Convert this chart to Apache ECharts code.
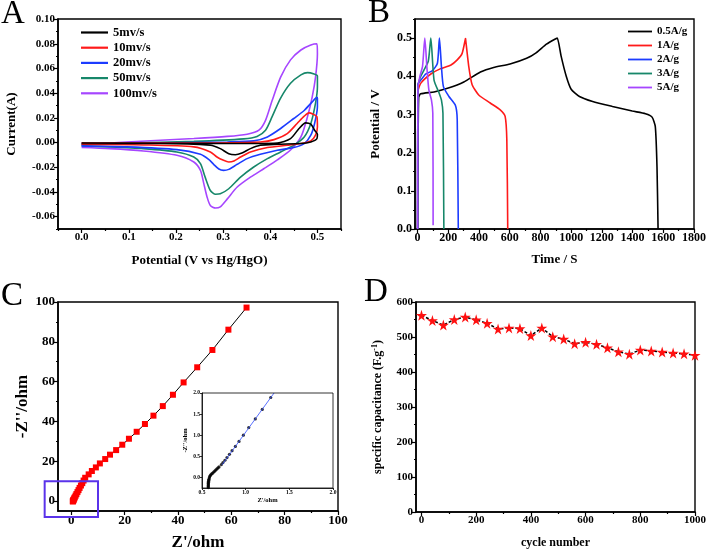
<!DOCTYPE html>
<html><head><meta charset="utf-8">
<script src="https://cdn.jsdelivr.net/npm/echarts@6/dist/echarts.min.js"></script>
<style>html,body{margin:0;padding:0;background:#fff}#c{width:709px;height:552px}</style>
</head><body><div id="c"></div>
<script>
// ---------- Panel A: CV curves [potential V, current A] ----------
const cvNames = ['5mv/s','10mv/s','20mv/s','50mv/s','100mv/s'];
const cv5 = [[0,-0.0003],[0.309,-0.0008],[0.415,-0.0003],[0.443,0.0032],[0.461,0.0114],[0.475,0.016],[0.486,0.0149],[0.494,0.010],[0.5,0.0068],[0.499,0.0032],[0.486,0.0005],[0.465,-0.0008],[0.415,-0.0014],[0.379,-0.0022],[0.358,-0.0049],[0.34,-0.0084],[0.326,-0.0098],[0.312,-0.009],[0.294,-0.0049],[0.273,-0.0022],[0.167,-0.0008],[0,-0.0008]];
const cv10 = [[0,-0.0003],[0.238,-0.0003],[0.379,0.0005],[0.408,0.0024],[0.436,0.0073],[0.457,0.0155],[0.472,0.0214],[0.482,0.0241],[0.491,0.023],[0.499,0.0209],[0.5,0.0127],[0.496,0.006],[0.486,0.0014],[0.465,-0.0008],[0.436,-0.0022],[0.394,-0.004],[0.358,-0.0076],[0.337,-0.0117],[0.323,-0.0149],[0.312,-0.0157],[0.301,-0.0144],[0.287,-0.0117],[0.273,-0.0076],[0.238,-0.0035],[0.131,-0.0019],[0,-0.0014]];
const cv20 = [[0,-0.0008],[0.167,-0.0003],[0.309,0.0005],[0.365,0.0014],[0.394,0.0046],[0.422,0.0114],[0.45,0.0195],[0.472,0.026],[0.489,0.033],[0.499,0.0366],[0.5,0.0358],[0.5,0.029],[0.494,0.0155],[0.486,0.006],[0.472,-0.0008],[0.45,-0.004],[0.415,-0.0062],[0.379,-0.0095],[0.351,-0.013],[0.33,-0.0176],[0.312,-0.0217],[0.301,-0.0225],[0.291,-0.0214],[0.28,-0.0176],[0.27,-0.0138],[0.252,-0.0095],[0.202,-0.0057],[0.096,-0.0035],[0,-0.0027]];
const cv50 = [[0,-0.0014],[0.096,-0.0003],[0.238,0.001],[0.344,0.003],[0.372,0.005],[0.39,0.010],[0.404,0.021],[0.422,0.036],[0.443,0.048],[0.465,0.0548],[0.479,0.0567],[0.493,0.0556],[0.5,0.054],[0.5,0.045],[0.496,0.032],[0.486,0.0155],[0.472,0.0046],[0.45,-0.002],[0.422,-0.0076],[0.394,-0.013],[0.365,-0.0198],[0.337,-0.028],[0.312,-0.0374],[0.294,-0.0415],[0.284,-0.0418],[0.273,-0.0388],[0.262,-0.028],[0.252,-0.017],[0.238,-0.0117],[0.202,-0.0076],[0.131,-0.0049],[0.06,-0.0035],[0,-0.0027]];
const cv100 = [[0,-0.002],[0.096,0.0005],[0.238,0.0033],[0.309,0.005],[0.351,0.0068],[0.376,0.010],[0.39,0.018],[0.404,0.034],[0.422,0.053],[0.443,0.067],[0.465,0.075],[0.486,0.079],[0.499,0.080],[0.5,0.072],[0.496,0.053],[0.489,0.037],[0.479,0.021],[0.465,0.0046],[0.443,-0.006],[0.415,-0.014],[0.387,-0.021],[0.358,-0.028],[0.33,-0.036],[0.309,-0.0456],[0.294,-0.052],[0.284,-0.053],[0.273,-0.051],[0.266,-0.044],[0.259,-0.033],[0.252,-0.0225],[0.238,-0.0157],[0.202,-0.0103],[0.131,-0.0068],[0.06,-0.0049],[0,-0.004]];
const xTicksA = [0,0.1,0.2,0.3,0.4,0.5];
const yTicksA = [-0.06,-0.04,-0.02,0,0.02,0.04,0.06,0.08,0.10];

// ---------- Panel B: GCD curves [time s, potential V] ----------
const gcdNames = ['0.5A/g','1A/g','2A/g','3A/g','5A/g'];
const g05 = [[0,0],[3,0.2],[7,0.345],[20,0.354],[107,0.359],[200,0.369],[301,0.385],[409,0.411],[495,0.423],[602,0.432],[710,0.447],[774,0.462],[839,0.484],[903,0.499],[910,0.5],[935,0.452],[968,0.4],[1000,0.366],[1054,0.347],[1140,0.334],[1269,0.321],[1398,0.309],[1484,0.302],[1527,0.293],[1548,0.268],[1559,0.163],[1566,0]];
const g1 = [[0,0],[2,0.36],[21,0.382],[86,0.406],[150,0.42],[215,0.429],[258,0.443],[290,0.46],[312,0.499],[315,0.5],[333,0.426],[355,0.378],[398,0.351],[473,0.33],[538,0.312],[570,0.295],[581,0.233],[587,0]];
const g2 = [[0,0],[2,0.38],[21,0.39],[54,0.406],[97,0.415],[129,0.434],[142,0.5],[155,0.426],[168,0.373],[204,0.347],[247,0.323],[258,0.286],[265,0]];
const g3 = [[0,0],[2,0.37],[15,0.395],[40,0.415],[70,0.44],[86,0.5],[107,0.39],[140,0.356],[155,0.338],[165,0.303],[171,0]];
const g5 = [[0,0],[2,0.37],[15,0.4],[32,0.426],[47,0.5],[60,0.426],[73,0.365],[90,0.338],[99,0.303],[101,0.01]];
const xTicksB = [0,200,400,600,800,1000,1200,1400,1600,1800];
const yTicksB = [0,0.1,0.2,0.3,0.4,0.5];

// ---------- Panel C: Nyquist [Z' ohm, -Z'' ohm] ----------
const nyqX = [0.57,0.58,0.63,0.70,0.79,0.92,1.10,1.29,1.6,1.9,2.3,2.7,3.1,3.6,4.1,4.6,5.2,6.5,7.7,9.2,10.7,12.7,14.5,16.8,19.1,21.6,24.5,27.6,30.8,34.3,38.1,42.1,47.2,52.9,58.9,65.7];
const nyqY = [-0.24,0.0,0.11,0.25,0.47,0.85,1.39,1.89,2.7,3.5,4.5,5.5,6.6,7.8,9.0,10.3,11.7,13.4,15.1,16.9,18.9,21.1,23.3,25.6,28.3,31.3,34.8,38.7,42.9,47.7,53.4,59.6,67.2,75.9,86.1,97.2];
const zoomBox = [-10, 10, 10, -8];
const xTicksC = [0,20,40,60,80,100];
const yTicksC = [0,20,40,60,80,100];
// inset (high-frequency region)
const insX = [0.572,0.572,0.572,0.573,0.573,0.574,0.575,0.577,0.58,0.584,0.588,0.595,0.603,0.614,0.626,0.637,0.649,0.66,0.672,0.684,0.695,0.722,0.74,0.763,0.786,0.814,0.844,0.882,0.924,0.974,1.035,1.11,1.19,1.287];
const insY = [-0.24,-0.215,-0.19,-0.165,-0.14,-0.115,-0.09,-0.065,-0.04,-0.01,0.02,0.045,0.07,0.09,0.11,0.135,0.157,0.18,0.204,0.227,0.25,0.305,0.352,0.407,0.47,0.548,0.634,0.735,0.853,1.0,1.18,1.385,1.61,1.894];
const fitLine = [[0.73,0.3],[1.325,2.0]];
const xTicksI = [0.5,1.0,1.5,2.0];
const yTicksI = [0.0,0.5,1.0,1.5,2.0];

// ---------- Panel D: cycling ----------
const cycles = [0,40,80,120,160,200,240,280,320,360,400,440,480,520,560,600,640,680,720,760,800,840,880,920,960,1000];
const capac = [562,547,534,550,557,549,539,523,526,524,504,526,501,494,481,485,479,469,458,451,463,460,457,454,452,448];
const xTicksD = [0,200,400,600,800,1000];
const yTicksD = [0,100,200,300,400,500,600];

// ---------- helpers ----------
const FF = 'Liberation Serif';
function minorsOf(t, min, max){
  const step = t[1]-t[0], r = [];
  for (let i = -1; i < t.length; i++){
    const v = +(t[0] + step*(i+0.5)).toFixed(6);
    if (v >= min-1e-9 && v <= max+1e-9) r.push(v);
  }
  return r;
}
function axes(dim, grid, min, max, ticks, fmt, fs, name, gap, nfs, extra){
  const pos = dim==='x' ? 'bottom' : 'left';
  const main = {
    type:'value', gridIndex:grid, min:min, max:max, position:pos,
    axisLine:{show:true, onZero:false, lineStyle:{color:'#000', width:1.6}},
    axisTick:{show:true, length:4, customValues:ticks, lineStyle:{color:'#000', width:1.2}},
    axisLabel:{customValues:ticks, formatter:fmt, fontFamily:FF, fontWeight:'bold', fontSize:fs, color:'#000', margin:3,
      showMinLabel:true, showMaxLabel:true, hideOverlap:false},
    splitLine:{show:false},
    name:name, nameLocation:'middle', nameGap:gap,
    nameTextStyle:{fontFamily:FF, fontWeight:'bold', fontSize:nfs, color:'#000'}
  };
  if (extra) Object.assign(main, extra);
  const minor = {
    type:'value', gridIndex:grid, min:min, max:max, position:pos,
    axisLine:{show:false, onZero:false},
    axisTick:{show:true, length:2, customValues:minorsOf(ticks,min,max), lineStyle:{color:'#000', width:1.2}},
    axisLabel:{show:false}, splitLine:{show:false}
  };
  return [main, minor];
}
const f1 = v => v.toFixed(1), f2 = v => v.toFixed(2), f0 = v => String(Math.round(v));

const xAxes = [].concat(
  axes('x',0,-0.05,0.55,xTicksA,f1,11,'Potential (V vs Hg/HgO)',25,13),
  axes('x',1,-17,1800,xTicksB,f0,12,'Time / S',24,13),
  axes('x',2,-5,100,xTicksC,f0,13,"Z'/ohm",23,17),
  axes('x',3,-20,1000,xTicksD,f0,11,'cycle number',25,12)
);
const yAxes = [].concat(
  axes('y',0,-0.07,0.1001,yTicksA,f2,11,'Current(A)',40,13),
  axes('y',1,0,0.55,yTicksB,f1,12,'Potential / V',33,13),
  axes('y',2,-5,100,yTicksC,f0,13,"-Z''/ohm",26,17),
  axes('y',3,0,600,yTicksD,f0,11,'{t|specific capacitance (F.g}{s|-1}{t|)}',30,12,
    {nameTextStyle:{fontFamily:FF, fontWeight:'bold', fontSize:12, color:'#000',
      rich:{t:{fontFamily:FF, fontWeight:'bold', fontSize:12, color:'#000', lineHeight:16},
            s:{fontFamily:FF, fontWeight:'bold', fontSize:8, color:'#000', lineHeight:16, padding:[0,0,7,0]}}}})
);
// inset axes
const insAxis = (dim, min, max, ticks, name) => ({
  type:'value', gridIndex:4, min:min, max:max, position: dim==='x'?'bottom':'left',
  axisLine:{show:true, onZero:false, lineStyle:{color:'#000', width:0.8}},
  axisTick:{show:true, length:2, customValues:ticks, lineStyle:{color:'#000', width:0.8}},
  axisLabel:{customValues:ticks, formatter:f1, fontFamily:FF, fontWeight:'bold', fontSize:5.5, color:'#000', margin:2,
    showMinLabel:true, showMaxLabel:true},
  splitLine:{show:false}, name:name, nameLocation:'middle', nameGap: dim==='x'?8:12,
  nameTextStyle:{fontFamily:FF, fontWeight:'bold', fontSize:6.5, color:'#000'}
});
xAxes.push(insAxis('x',0.5,2.0,xTicksI,"Z'/ohm"));
yAxes.push(insAxis('y',-0.25,2.0,yTicksI,"-Z''/ohm"));

const cvColors = ['#000000','#ff1a1a','#1c3cff','#17876a','#a646ff'];
const cvData = [cv5,cv10,cv20,cv50,cv100];
const gcdData = [g05,g1,g2,g3,g5];

const series = [];
cvData.forEach((d,i)=>series.push({type:'line', name:cvNames[i], xAxisIndex:0, yAxisIndex:0, data:d,
  showSymbol:false, symbol:'none', smooth:0.25, lineStyle:{color:cvColors[i], width:1.6}, itemStyle:{color:cvColors[i]}, z:10-i}));
gcdData.forEach((d,i)=>series.push({type:'line', name:gcdNames[i], xAxisIndex:2, yAxisIndex:2, data:d,
  showSymbol:false, symbol:'none', smooth:0.2, lineStyle:{color:cvColors[i], width:1.6}, itemStyle:{color:cvColors[i]}}));
series.push({type:'line', xAxisIndex:4, yAxisIndex:4, data:nyqX.map((x,i)=>[x,nyqY[i]]),
  symbol:'rect', symbolSize:6, showSymbol:true, lineStyle:{color:'#000', width:1}, itemStyle:{color:'#ff0000'}});
series.push({type:'custom', xAxisIndex:4, yAxisIndex:4, clip:false, data:[zoomBox], z:20,
  renderItem:(params, api)=>{
    const p1 = api.coord([api.value(0), api.value(1)]);
    const p2 = api.coord([api.value(2), api.value(3)]);
    return {type:'rect', shape:{x:p1[0], y:p1[1], width:p2[0]-p1[0], height:p2[1]-p1[1]},
      style:{fill:'none', stroke:'#5a33ea', lineWidth:2}};
  }});
series.push({type:'line', xAxisIndex:8, yAxisIndex:8, data:fitLine, symbol:'none', lineStyle:{color:'#2f4bff', width:0.8}});
series.push({type:'scatter', xAxisIndex:8, yAxisIndex:8, data:insX.map((x,i)=>[x,insY[i]]), symbolSize:3.2, itemStyle:{color:'#000'}});
series.push({type:'line', xAxisIndex:6, yAxisIndex:6, data:cycles.map((c,i)=>[c,capac[i]]),
  symbol:'path://M50,0 L61,35 L98,35 L68,57 L79,91 L50,70 L21,91 L32,57 L2,35 L39,35 Z', symbolSize:11, showSymbol:true,
  lineStyle:{color:'#000', width:1.5, type:[3,2]}, itemStyle:{color:'#ff1010'}});

const gridBase = {show:true, borderColor:'#000', borderWidth:1.4, backgroundColor:'transparent'};
const legendText = {fontFamily:FF, fontWeight:'bold', color:'#000'};
const letter = {fontFamily:FF, fontSize:33, fontWeight:'normal', color:'#000'};
const option = {
  animation:false,
  backgroundColor:'#fff',
  title:[
    {text:'A', left:1, top:-2, padding:0, textStyle:letter},
    {text:'B', left:368, top:-3, padding:0, textStyle:letter},
    {text:'C', left:1, top:280, padding:0, textStyle:letter},
    {text:'D', left:364, top:276, padding:0, textStyle:letter}
  ],
  grid:[
    Object.assign({left:58, top:19, width:283, height:210}, gridBase),
    Object.assign({left:415, top:19, width:281, height:210}, gridBase),
    Object.assign({left:58, top:302, width:280, height:210}, gridBase),
    Object.assign({left:416, top:302, width:282, height:210}, gridBase),
    Object.assign({left:202, top:393, width:131, height:95}, gridBase, {borderWidth:0.8, z:5})
  ],
  legend:[
    {data:cvNames, left:81, top:26, orient:'vertical', icon:'rect', itemWidth:27, itemHeight:2.2, itemGap:2.2, padding:0,
      textStyle:Object.assign({fontSize:12.5}, legendText)},
    {data:gcdNames, left:628, top:26, orient:'vertical', icon:'rect', itemWidth:24, itemHeight:1.8, itemGap:3, padding:0,
      textStyle:Object.assign({fontSize:11}, legendText)}
  ],
  xAxis:xAxes, yAxis:yAxes, series:series
};
const chart = echarts.init(document.getElementById('c'), null, {renderer:'canvas'});
chart.setOption(option);
</script></body></html>
